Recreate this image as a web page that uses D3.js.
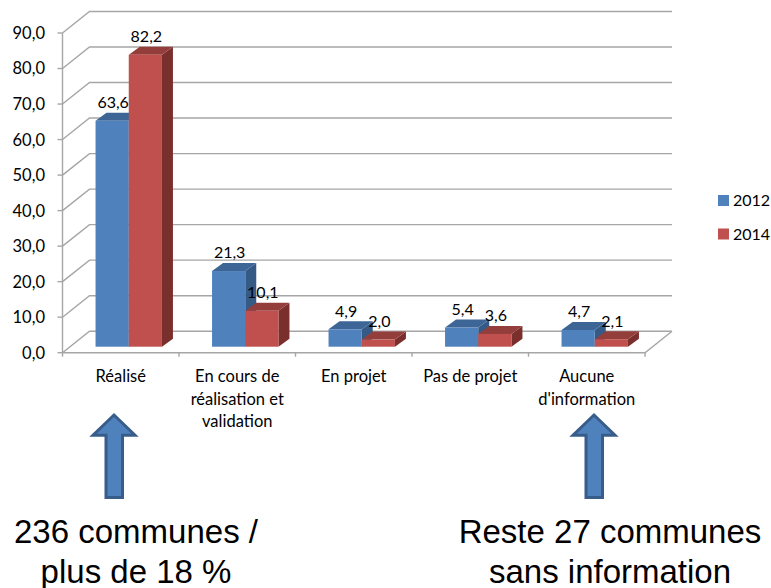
<!DOCTYPE html>
<html>
<head>
<meta charset="utf-8">
<script src="https://cdn.jsdelivr.net/npm/d3@7"></script>
<style>
  html, body { margin: 0; padding: 0; background: #fff; }
  svg { display: block; }
  text { font-family: Lato, sans-serif; fill: #000; }
  .note { font-family: "Liberation Sans", Arial, sans-serif; font-size: 33px; text-anchor: middle; }
</style>
</head>
<body>
<svg id="chart" width="771" height="588"></svg>
<script>
const categories = ["Réalisé", "En cours de\nréalisation et\nvalidation", "En projet", "Pas de projet", "Aucune\nd'information"];
const seriesNames = ["2012", "2014"];
const values2012 = [63.6, 21.3, 4.9, 5.4, 4.7];
const values2014 = [82.2, 10.1, 2.0, 3.6, 2.1];
const yTicks = [0, 10, 20, 30, 40, 50, 60, 70, 80, 90];
const notes = [
  { lines: ["236 communes /", "plus de 18 %"], center: 136, arrow: 114 },
  { lines: ["Reste 27 communes", "sans information"], center: 610, arrow: 594 }
];

const colors = {
  "2012": { front: "#4f81bd", top: "#3d6596", side: "#355a86" },
  "2014": { front: "#c0504d", top: "#943e3c", side: "#7b2f2d" }
};
const gridColor = "#a6a6a6";

// 3d box: floor depth offset and the bars' own depth
const wallDx = 27, wallDy = -21.5;
const barShiftX = 8, barShiftY = -6;
const barDx = 11, barDy = -8;

const svg = d3.select("#chart");

const x = d3.scaleBand().domain(categories).range([62.5, 645]).paddingInner(0.43).paddingOuter(0.215);
const xSeries = d3.scaleBand().domain(seriesNames).range([0, x.bandwidth()]);
const y = d3.scaleLinear().domain([0, 90]).range([352.7, 33]);

/* ================================
   WALLS + AXES
================================ */
const grid = svg.append("g")
  .attr("fill", "none")
  .attr("stroke", gridColor)
  .attr("stroke-width", 1.4);

yTicks.forEach(t => {
  grid.append("path")
    .attr("d", `M${x.range()[0]},${y(t)}l${wallDx},${wallDy}H${x.range()[1] + wallDx}`);
  grid.append("line")
    .attr("x1", x.range()[0] - 5).attr("x2", x.range()[0])
    .attr("y1", y(t)).attr("y2", y(t));
  svg.append("text")
    .attr("x", 45)
    .attr("y", y(t))
    .attr("dy", "0.36em")
    .attr("text-anchor", "end")
    .attr("font-size", 16.5)
    .text(d3.format(".1f")(t).replace(".", ","));
});

grid.append("line")
  .attr("x1", x.range()[0]).attr("x2", x.range()[0])
  .attr("y1", y(90)).attr("y2", y(0));
grid.append("path")
  .attr("d", `M${x.range()[0]},${y(0)}H${x.range()[1]}l${wallDx},${wallDy}`);

const tickStep = x.step();
d3.range(categories.length + 1).forEach(i => {
  const tx = x.range()[0] + i * tickStep;
  grid.append("line")
    .attr("x1", tx).attr("x2", tx)
    .attr("y1", y(0)).attr("y2", y(0) + 4);
});

/* ================================
   BARS
================================ */
const series = [
  { name: "2012", values: values2012 },
  { name: "2014", values: values2014 }
];

categories.forEach((cat, i) => {
  series.forEach(s => {
    const c = colors[s.name];
    const x0 = x(cat) + xSeries(s.name) + barShiftX;
    const w = xSeries.bandwidth();
    const yTop = y(s.values[i]) + barShiftY;
    const yBase = y(0) + barShiftY;
    const g = svg.append("g");

    g.append("path")
      .attr("fill", c.side)
      .attr("d", `M${x0 + w},${yTop}l${barDx},${barDy}V${yBase + barDy}L${x0 + w},${yBase}Z`);
    g.append("path")
      .attr("fill", c.top)
      .attr("d", `M${x0},${yTop}l${barDx},${barDy}h${w}l${-barDx},${-barDy}Z`);
    g.append("rect")
      .attr("fill", c.front)
      .attr("x", x0).attr("y", yTop)
      .attr("width", w).attr("height", yBase - yTop);
  });
});

// data labels go on top of every bar
categories.forEach((cat, i) => {
  series.forEach(s => {
    svg.append("text")
      .attr("x", x(cat) + xSeries(s.name) + barShiftX + xSeries.bandwidth() / 2 + 1)
      .attr("y", y(s.values[i]) + barShiftY - 18.5)
      .attr("dy", "0.36em")
      .attr("text-anchor", "middle")
      .attr("font-size", 16)
      .text(d3.format(".1f")(s.values[i]).replace(".", ","));
  });
});

/* ================================
   CATEGORY LABELS
================================ */
categories.forEach(cat => {
  const label = svg.append("text")
    .attr("text-anchor", "middle")
    .attr("font-size", 16.5);
  cat.split("\n").forEach((line, i) => {
    label.append("tspan")
      .attr("x", x(cat) + x.bandwidth() / 2)
      .attr("y", 382 + i * 22.5)
      .text(line);
  });
});

/* ================================
   LEGEND
================================ */
series.forEach((s, i) => {
  const ly = 200.5 + i * 33.5;
  svg.append("rect")
    .attr("x", 718).attr("y", ly - 5.5)
    .attr("width", 11).attr("height", 11)
    .attr("fill", colors[s.name].front);
  svg.append("text")
    .attr("x", 733).attr("y", ly)
    .attr("dy", "0.36em")
    .attr("font-size", 16)
    .text(s.name);
});

/* ================================
   ARROWS + NOTES
================================ */
notes.forEach(n => {
  const p = d3.path();
  const a = n.arrow;
  p.moveTo(a, 415);
  p.lineTo(a + 21, 435.2);
  p.lineTo(a + 8.5, 435.2);
  p.lineTo(a + 8.5, 497.5);
  p.lineTo(a - 8, 497.5);
  p.lineTo(a - 8, 435.2);
  p.lineTo(a - 21, 435.2);
  p.closePath();
  svg.append("path")
    .attr("d", p.toString())
    .attr("fill", "#4f81bd")
    .attr("stroke", "#385d8a")
    .attr("stroke-width", 3);

  n.lines.forEach((line, i) => {
    svg.append("text")
      .attr("class", "note")
      .attr("x", n.center)
      .attr("y", 542.5 + i * 40)
      .text(line);
  });
});
</script>
</body>
</html>
